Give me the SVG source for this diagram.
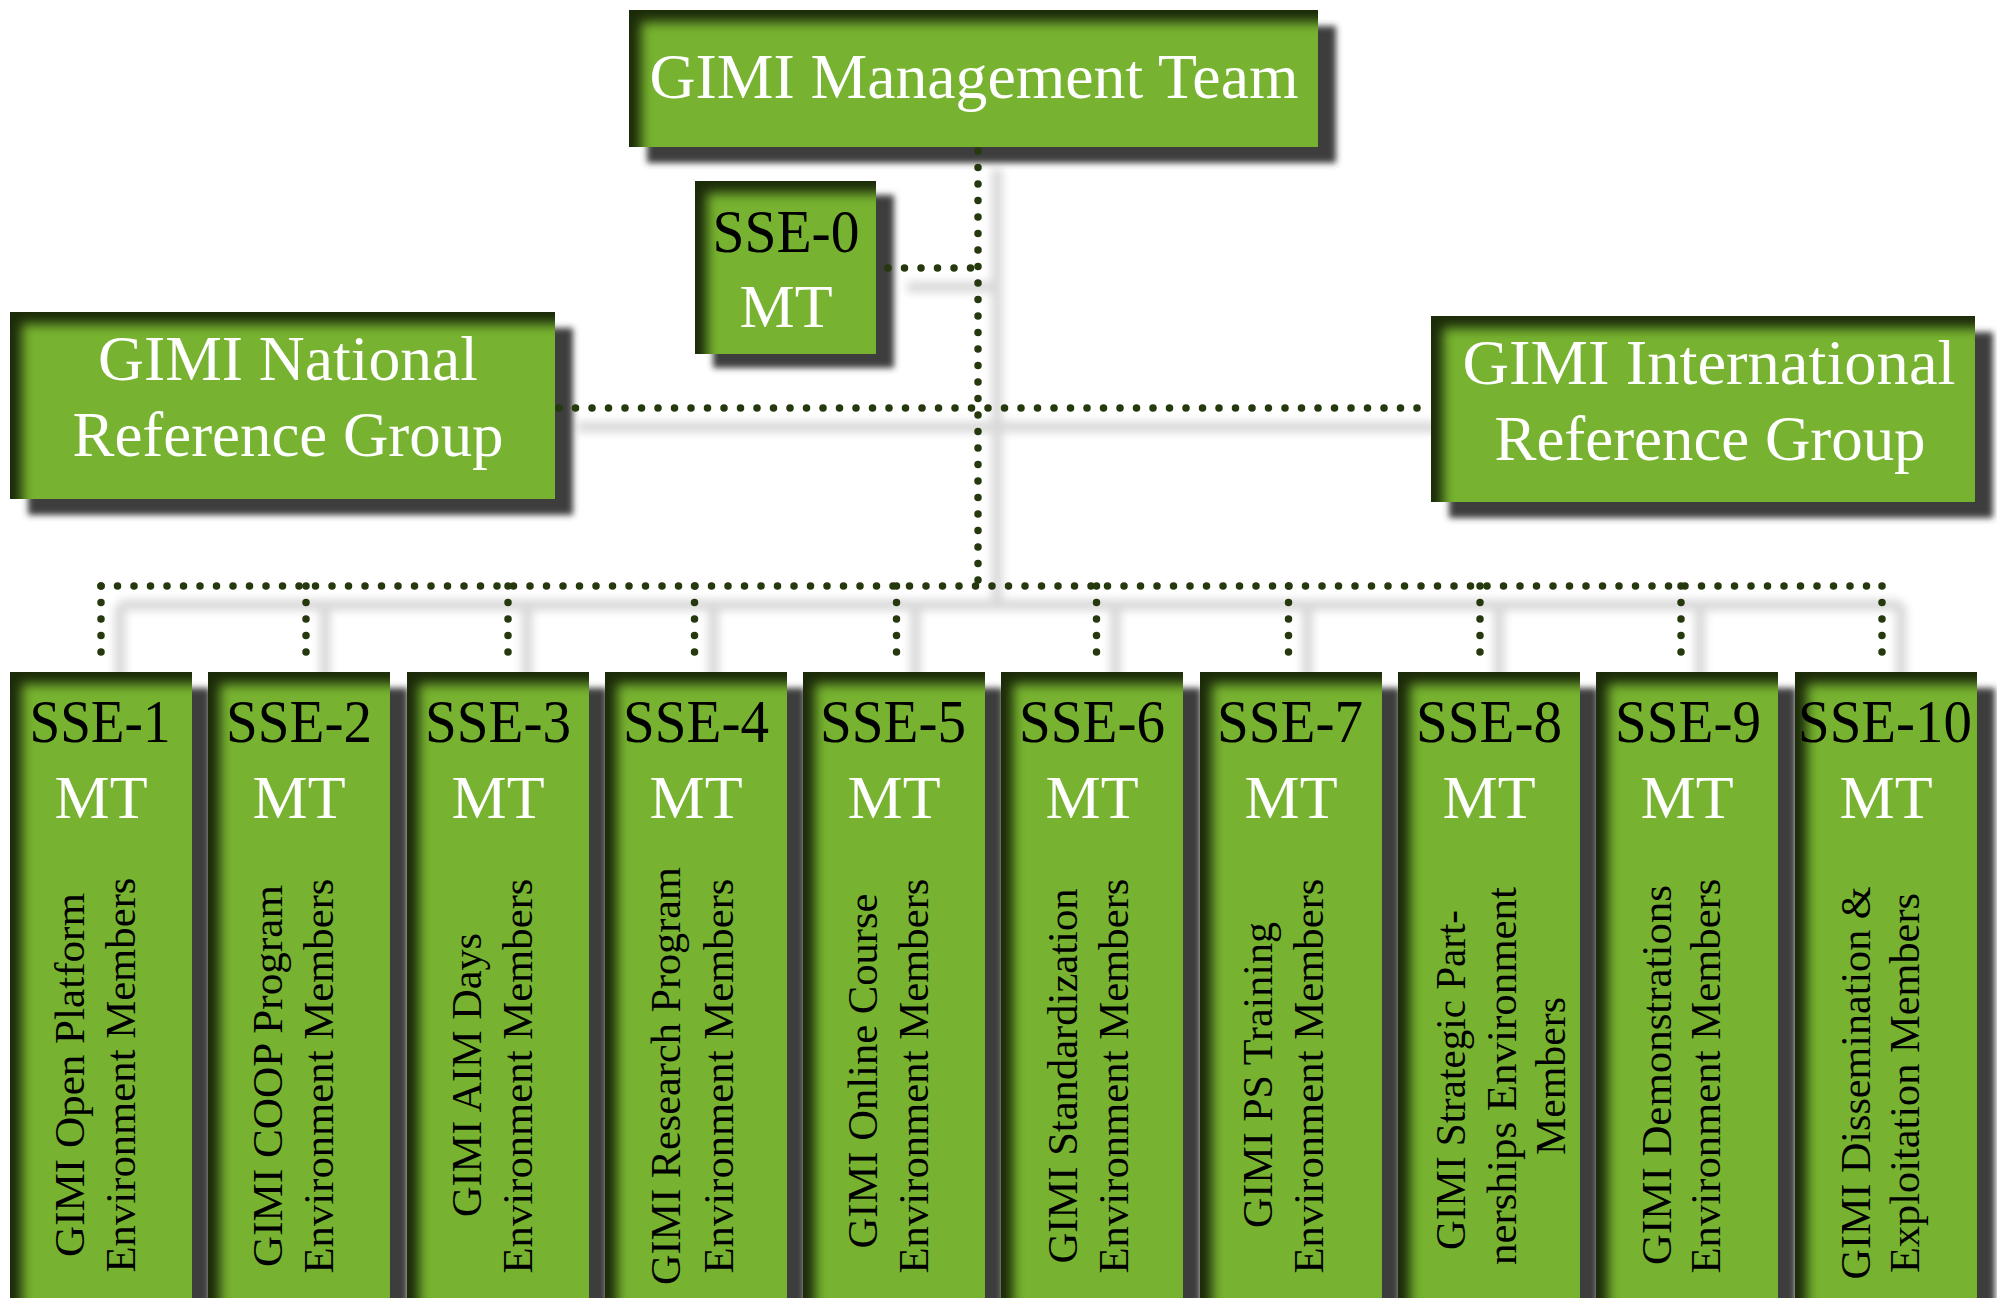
<svg xmlns="http://www.w3.org/2000/svg" width="1997" height="1298" viewBox="0 0 1997 1298">
  <defs>
    <!-- dark inner shading along the top and left edges of each box -->
    <filter id="bevel" x="-10%" y="-10%" width="120%" height="120%" color-interpolation-filters="sRGB">
      <feOffset in="SourceAlpha" dx="12" dy="12" result="off"/>
      <feGaussianBlur in="off" stdDeviation="6" result="blur"/>
      <feComposite in="SourceAlpha" in2="blur" operator="out" result="edge"/>
      <feFlood flood-color="#1b2a09"/>
      <feComposite in2="edge" operator="in" result="shade"/>
      <feMerge>
        <feMergeNode in="SourceGraphic"/>
        <feMergeNode in="shade"/>
      </feMerge>
    </filter>
    <!-- soft drop shadow under boxes -->
    <filter id="boxShadow" x="-10%" y="-10%" width="120%" height="120%">
      <feGaussianBlur stdDeviation="3"/>
    </filter>
    <!-- soft shadow under connectors -->
    <filter id="lineShadow" x="0" y="0" width="1997" height="1298" filterUnits="userSpaceOnUse">
      <feGaussianBlur stdDeviation="4"/>
    </filter>
  </defs>
  <style>
    .box { fill: #77b330; filter: url(#bevel); }
    .shadow { fill: #3e3e3e; filter: url(#boxShadow); }
    .dots { fill: none; stroke: #25380e; stroke-width: 7.5; stroke-linecap: round; stroke-dasharray: 0 16.5; }
    .dshadow { fill: none; stroke: #d9d9d9; stroke-width: 11; }
    .t { font-family: "Liberation Serif", "Times New Roman", serif; }
    .big { font-size: 63px; fill: #ffffff; text-anchor: middle; }
    .sse { font-size: 62px; fill: #000000; text-anchor: middle; }
    .mt { font-size: 62px; fill: #ffffff; text-anchor: middle; }
    .vt { font-size: 43px; fill: #000000; text-anchor: middle; }
  </style>

  <rect width="1997" height="1298" fill="#ffffff"/>

  <!-- soft shadows cast by the connector lines -->
  <g id="connector-shadows" filter="url(#lineShadow)">
    <g transform="translate(19,19)">
      <path class="dshadow" d="M978,150 V586"/>
      <path class="dshadow" d="M888,268 H978"/>
      <path class="dshadow" d="M559,408 H1425"/>
      <path class="dshadow" d="M101,586 H1882"/>
      <path class="dshadow" d="M101,586 V668 M306,586 V668 M508,586 V668 M694.5,586 V668 M896.5,586 V668 M1096.5,586 V668 M1288.5,586 V668 M1480,586 V668 M1681,586 V668 M1882,586 V668"/>
    </g>
  </g>

  <!-- top level -->
  <g id="mgmt">
    <rect class="shadow" x="647" y="26" width="689" height="137"/>
    <rect class="box" x="629" y="10" width="689" height="137"/>
    <text class="t big" x="974" y="98" textLength="649" lengthAdjust="spacingAndGlyphs">GIMI Management Team</text>
  </g>

  <g id="sse0">
    <rect class="shadow" x="713" y="195" width="181" height="173"/>
    <rect class="box" x="695" y="181" width="181" height="173"/>
    <text class="t sse" x="786" y="252" font-size="64" textLength="147" lengthAdjust="spacingAndGlyphs">SSE-0</text>
    <text class="t mt" x="786" y="327" font-size="63">MT</text>
  </g>

  <g id="national">
    <rect class="shadow" x="28" y="328" width="545" height="187"/>
    <rect class="box" x="10" y="312" width="545" height="187"/>
    <text class="t big" x="288" y="380" textLength="380" lengthAdjust="spacingAndGlyphs">GIMI National</text>
    <text class="t big" x="288" y="456" textLength="431" lengthAdjust="spacingAndGlyphs">Reference Group</text>
  </g>

  <g id="international">
    <rect class="shadow" x="1449" y="332" width="544" height="186"/>
    <rect class="box" x="1431" y="316" width="544" height="186"/>
    <text class="t big" x="1709" y="384" textLength="493" lengthAdjust="spacingAndGlyphs">GIMI International</text>
    <text class="t big" x="1710" y="460" textLength="431" lengthAdjust="spacingAndGlyphs">Reference Group</text>
  </g>

  <!-- dotted connectors -->
  <g id="connectors">
    <path class="dots" d="M978,151 V586"/>
    <path class="dots" d="M888,268 H978"/>
    <path class="dots" d="M559,408 H1425"/>
    <path class="dots" d="M101,586 H1882"/>
    <path class="dots" d="M101,586 V668"/>
    <path class="dots" d="M306,586 V668"/>
    <path class="dots" d="M508,586 V668"/>
    <path class="dots" d="M694.5,586 V668"/>
    <path class="dots" d="M896.5,586 V668"/>
    <path class="dots" d="M1096.5,586 V668"/>
    <path class="dots" d="M1288.5,586 V668"/>
    <path class="dots" d="M1480,586 V668"/>
    <path class="dots" d="M1681,586 V668"/>
    <path class="dots" d="M1882,586 V668"/>
  </g>

  <!-- sub-environment columns -->
  <g id="sse1">
    <rect class="shadow" x="28" y="688" width="182" height="640"/>
    <rect class="box" x="10" y="672" width="182" height="640"/>
    <text class="t sse" x="100" y="742" textLength="141" lengthAdjust="spacingAndGlyphs">SSE-1</text>
    <text class="t mt" x="101" y="818">MT</text>
    <text class="t vt" transform="translate(84,1075) rotate(-90)" textLength="364" lengthAdjust="spacingAndGlyphs">GIMI Open Platform</text>
    <text class="t vt" transform="translate(135,1075) rotate(-90)" textLength="395" lengthAdjust="spacingAndGlyphs">Environment Members</text>
  </g>

  <g id="sse2">
    <rect class="shadow" x="226" y="688" width="182" height="640"/>
    <rect class="box" x="208" y="672" width="182" height="640"/>
    <text class="t sse" x="299" y="742" textLength="146" lengthAdjust="spacingAndGlyphs">SSE-2</text>
    <text class="t mt" x="299" y="818">MT</text>
    <text class="t vt" transform="translate(282,1076) rotate(-90)" textLength="382" lengthAdjust="spacingAndGlyphs">GIMI COOP Program</text>
    <text class="t vt" transform="translate(333,1076) rotate(-90)" textLength="395" lengthAdjust="spacingAndGlyphs">Environment Members</text>
  </g>

  <g id="sse3">
    <rect class="shadow" x="425" y="688" width="182" height="640"/>
    <rect class="box" x="407" y="672" width="182" height="640"/>
    <text class="t sse" x="498" y="742" textLength="146" lengthAdjust="spacingAndGlyphs">SSE-3</text>
    <text class="t mt" x="498" y="818">MT</text>
    <text class="t vt" transform="translate(481,1075) rotate(-90)" textLength="284" lengthAdjust="spacingAndGlyphs">GIMI AIM Days</text>
    <text class="t vt" transform="translate(532,1076) rotate(-90)" textLength="395" lengthAdjust="spacingAndGlyphs">Environment Members</text>
  </g>

  <g id="sse4">
    <rect class="shadow" x="623" y="688" width="182" height="640"/>
    <rect class="box" x="605" y="672" width="182" height="640"/>
    <text class="t sse" x="696" y="742" textLength="146" lengthAdjust="spacingAndGlyphs">SSE-4</text>
    <text class="t mt" x="696" y="818">MT</text>
    <text class="t vt" transform="translate(680,1076) rotate(-90)" textLength="418" lengthAdjust="spacingAndGlyphs">GIMI Research Program</text>
    <text class="t vt" transform="translate(733,1076) rotate(-90)" textLength="395" lengthAdjust="spacingAndGlyphs">Environment Members</text>
  </g>

  <g id="sse5">
    <rect class="shadow" x="821" y="688" width="182" height="640"/>
    <rect class="box" x="803" y="672" width="182" height="640"/>
    <text class="t sse" x="893" y="742" textLength="146" lengthAdjust="spacingAndGlyphs">SSE-5</text>
    <text class="t mt" x="894" y="818">MT</text>
    <text class="t vt" transform="translate(877,1071) rotate(-90)" textLength="355" lengthAdjust="spacingAndGlyphs">GIMI Online Course</text>
    <text class="t vt" transform="translate(928,1076) rotate(-90)" textLength="395" lengthAdjust="spacingAndGlyphs">Environment Members</text>
  </g>

  <g id="sse6">
    <rect class="shadow" x="1019" y="688" width="182" height="640"/>
    <rect class="box" x="1001" y="672" width="182" height="640"/>
    <text class="t sse" x="1092" y="742" textLength="146" lengthAdjust="spacingAndGlyphs">SSE-6</text>
    <text class="t mt" x="1092" y="818">MT</text>
    <text class="t vt" transform="translate(1077,1076) rotate(-90)" textLength="375" lengthAdjust="spacingAndGlyphs">GIMI Standardization</text>
    <text class="t vt" transform="translate(1128,1076) rotate(-90)" textLength="395" lengthAdjust="spacingAndGlyphs">Environment Members</text>
  </g>

  <g id="sse7">
    <rect class="shadow" x="1218" y="688" width="182" height="640"/>
    <rect class="box" x="1200" y="672" width="182" height="640"/>
    <text class="t sse" x="1290" y="742" textLength="146" lengthAdjust="spacingAndGlyphs">SSE-7</text>
    <text class="t mt" x="1291" y="818">MT</text>
    <text class="t vt" transform="translate(1272,1075) rotate(-90)" textLength="306" lengthAdjust="spacingAndGlyphs">GIMI PS Training</text>
    <text class="t vt" transform="translate(1323,1076) rotate(-90)" textLength="395" lengthAdjust="spacingAndGlyphs">Environment Members</text>
  </g>

  <g id="sse8">
    <rect class="shadow" x="1416" y="688" width="182" height="640"/>
    <rect class="box" x="1398" y="672" width="182" height="640"/>
    <text class="t sse" x="1489" y="742" textLength="146" lengthAdjust="spacingAndGlyphs">SSE-8</text>
    <text class="t mt" x="1489" y="818">MT</text>
    <text class="t vt" transform="translate(1465,1080) rotate(-90)" textLength="340" lengthAdjust="spacingAndGlyphs">GIMI Strategic Part-</text>
    <text class="t vt" transform="translate(1516,1076) rotate(-90)" textLength="378" lengthAdjust="spacingAndGlyphs">nerships Environment</text>
    <text class="t vt" transform="translate(1565,1076) rotate(-90)" textLength="158" lengthAdjust="spacingAndGlyphs">Members</text>
  </g>

  <g id="sse9">
    <rect class="shadow" x="1614" y="688" width="182" height="640"/>
    <rect class="box" x="1596" y="672" width="182" height="640"/>
    <text class="t sse" x="1688" y="742" textLength="146" lengthAdjust="spacingAndGlyphs">SSE-9</text>
    <text class="t mt" x="1687" y="818">MT</text>
    <text class="t vt" transform="translate(1671,1075) rotate(-90)" textLength="380" lengthAdjust="spacingAndGlyphs">GIMI Demonstrations</text>
    <text class="t vt" transform="translate(1720,1076) rotate(-90)" textLength="395" lengthAdjust="spacingAndGlyphs">Environment Members</text>
  </g>

  <g id="sse10">
    <rect class="shadow" x="1813" y="688" width="182" height="640"/>
    <rect class="box" x="1795" y="672" width="182" height="640"/>
    <text class="t sse" x="1885" y="742" textLength="174" lengthAdjust="spacingAndGlyphs">SSE-10</text>
    <text class="t mt" x="1886" y="818">MT</text>
    <text class="t vt" transform="translate(1870,1083) rotate(-90)" textLength="393" lengthAdjust="spacingAndGlyphs">GIMI Dissemination &amp;</text>
    <text class="t vt" transform="translate(1919,1083) rotate(-90)" textLength="380" lengthAdjust="spacingAndGlyphs">Exploitation Members</text>
  </g>
</svg>
